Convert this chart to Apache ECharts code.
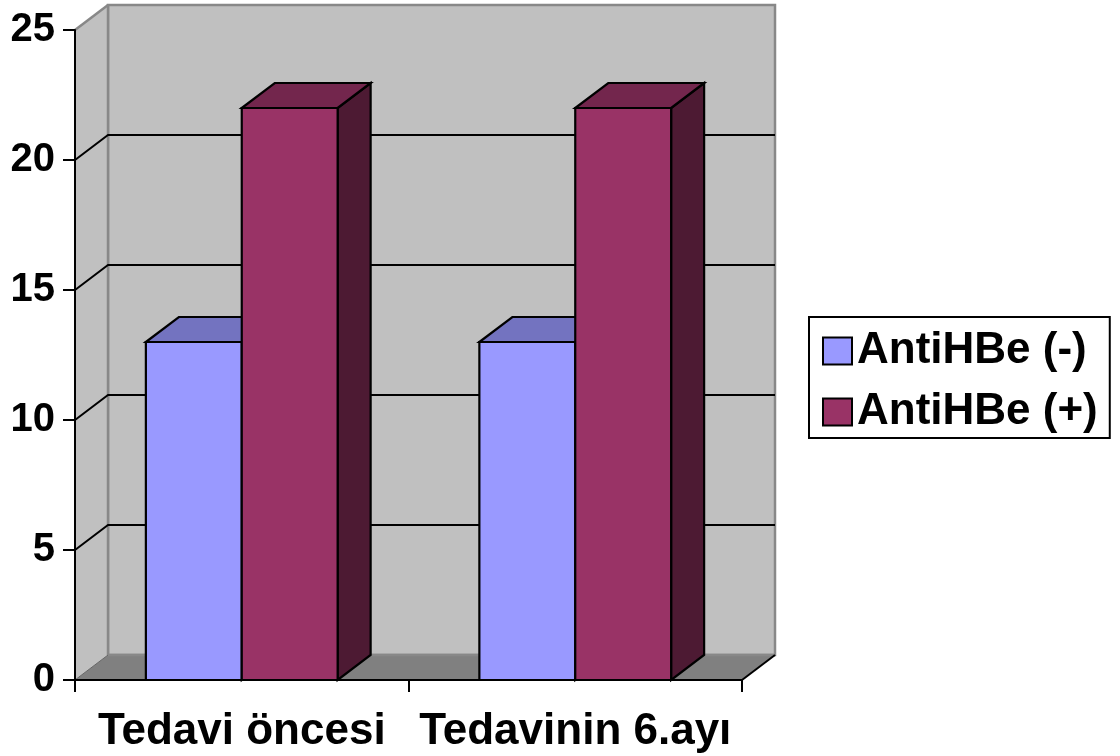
<!DOCTYPE html>
<html>
<head>
<meta charset="utf-8">
<script src="https://cdn.jsdelivr.net/npm/echarts@6/dist/echarts.min.js"></script>
<style>
  html, body { margin: 0; padding: 0; background: #ffffff; }
  #chart { width: 1120px; height: 756px; }
</style>
</head>
<body>
<div id="chart"></div>
<script>
// ---- data ----
const categories = ['Tedavi öncesi', 'Tedavinin 6.ayı'];
const seriesNames = ['AntiHBe (-)', 'AntiHBe (+)'];
const antiHBeNeg = [13, 13];
const antiHBePos = [22, 22];
const yMin = 0, yMax = 25, yInterval = 5;

// ---- styling constants ----
const FONT = 'Liberation Sans, Arial, sans-serif';
const DX = 33, DY = -25;          // 3D depth offset (pixels)
const BAR_FRAC = 0.2875;          // bar width as share of category band
const wallColor = '#c0c0c0';
const floorColor = '#808080';
const wallEdge = '#888888';

const gridValues = [];
for (let v = yMin + yInterval; v < yMax; v += yInterval) gridValues.push(v);

const chart = echarts.init(document.getElementById('chart'), null, { renderer: 'canvas' });

function wallsRender(params, api) {
  const cs = params.coordSys;
  const x = cs.x, y = cs.y, w = cs.width, h = cs.height;
  const children = [];
  // back wall
  children.push({ type: 'rect', shape: { x: x + DX, y: y + DY, width: w, height: h },
    style: { fill: wallColor, stroke: wallEdge, lineWidth: 2.5 } });
  // left wall
  children.push({ type: 'polygon', shape: { points: [[x, y], [x + DX, y + DY], [x + DX, y + h + DY], [x, y + h]] },
    style: { fill: wallColor, stroke: null } });
  children.push({ type: 'line', shape: { x1: x, y1: y, x2: x + DX, y2: y + DY },
    style: { stroke: wallEdge, lineWidth: 2.5 } });
  children.push({ type: 'line', shape: { x1: x + DX, y1: y + DY, x2: x + DX, y2: y + h + DY },
    style: { stroke: wallEdge, lineWidth: 2.5 } });
  // floor
  children.push({ type: 'polygon', shape: { points: [[x, y + h], [x + DX, y + h + DY], [x + w + DX, y + h + DY], [x + w, y + h]] },
    style: { fill: floorColor, stroke: null } });
  children.push({ type: 'line', shape: { x1: x + DX, y1: y + h + DY, x2: x + w + DX, y2: y + h + DY },
    style: { stroke: wallEdge, lineWidth: 2.5 } });
  children.push({ type: 'line', shape: { x1: x, y1: y + h, x2: x + DX, y2: y + h + DY },
    style: { stroke: '#666666', lineWidth: 1 } });
  children.push({ type: 'line', shape: { x1: x + w, y1: y + h, x2: x + w + DX, y2: y + h + DY },
    style: { stroke: '#000000', lineWidth: 2 } });
  // gridlines on left and back walls
  gridValues.forEach(function (v) {
    const yy = api.coord([0, v])[1];
    children.push({ type: 'polyline', shape: { points: [[x, yy], [x + DX, yy + DY], [x + w + DX, yy + DY]] },
      style: { stroke: '#000000', lineWidth: 2, fill: null } });
  });
  return { type: 'group', children: children };
}

function barRender(side, front, top, sideColor) {
  return function (params, api) {
    const cat = api.value(0);
    const val = api.value(1);
    const pTop = api.coord([cat, val]);
    const pBase = api.coord([cat, 0]);
    const band = api.size([1, 0])[0];
    const w = band * BAR_FRAC;
    const x0 = side < 0 ? pTop[0] - w : pTop[0];
    const x1 = x0 + w;
    const yt = pTop[1], yb = pBase[1];
    const st = { stroke: '#000000', lineWidth: 2.2, lineJoin: 'miter' };
    return {
      type: 'group',
      children: [
        { type: 'polygon', shape: { points: [[x1, yt], [x1 + DX, yt + DY], [x1 + DX, yb + DY], [x1, yb]] },
          style: Object.assign({ fill: sideColor }, st) },
        { type: 'polygon', shape: { points: [[x0, yt], [x0 + DX, yt + DY], [x1 + DX, yt + DY], [x1, yt]] },
          style: Object.assign({ fill: top }, st) },
        { type: 'rect', shape: { x: x0, y: yt, width: w, height: yb - yt },
          style: Object.assign({ fill: front }, st) }
      ]
    };
  };
}

const option = {
  backgroundColor: '#ffffff',
  animation: false,
  grid: { left: 75, top: 30, width: 667, height: 650, containLabel: false },
  xAxis: {
    type: 'category',
    data: categories,
    boundaryGap: true,
    z: 10,
    axisLine: { show: true, lineStyle: { color: '#000', width: 2 } },
    axisTick: { show: true, interval: 0, length: 12, alignWithLabel: false, lineStyle: { color: '#000', width: 2 } },
    axisLabel: { show: true, interval: 0, hideOverlap: false, color: '#000', fontSize: 44, fontWeight: 'bold', fontFamily: FONT, margin: 30 },
    splitLine: { show: false }
  },
  yAxis: {
    type: 'value',
    min: yMin, max: yMax, interval: yInterval,
    z: 10,
    axisLine: { show: true, lineStyle: { color: '#000', width: 2 } },
    axisTick: { show: true, length: 12, lineStyle: { color: '#000', width: 2 } },
    axisLabel: { color: '#000', fontSize: 40, fontWeight: 'bold', fontFamily: FONT, margin: 20 },
    splitLine: { show: false }
  },
  legend: {
    orient: 'vertical',
    left: 809,
    top: 317,
    data: seriesNames,
    icon: 'rect',
    itemWidth: 29,
    itemHeight: 27,
    itemGap: 17,
    padding: [12, 12, 4, 13],
    borderColor: '#000',
    borderWidth: 2,
    backgroundColor: '#ffffff',
    itemStyle: { borderColor: '#000', borderWidth: 2 },
    textStyle: { color: '#000', fontSize: 44, fontWeight: 'bold', fontFamily: FONT, lineHeight: 44 },
    selectedMode: false
  },
  series: [
    {
      name: 'walls',
      type: 'custom',
      silent: true,
      clip: false,
      z: 1,
      data: [[0, 0]],
      encode: { x: 0, y: 1 },
      renderItem: wallsRender
    },
    {
      name: seriesNames[0],
      type: 'custom',
      clip: false,
      z: 3,
      itemStyle: { color: '#9999ff' },
      data: antiHBeNeg.map(function (v, i) { return [i, v]; }),
      encode: { x: 0, y: 1 },
      renderItem: barRender(-1, '#9999ff', '#7373c0', '#4d4d80')
    },
    {
      name: seriesNames[1],
      type: 'custom',
      clip: false,
      z: 4,
      itemStyle: { color: '#993366' },
      data: antiHBePos.map(function (v, i) { return [i, v]; }),
      encode: { x: 0, y: 1 },
      renderItem: barRender(1, '#993366', '#73264d', '#4d1a33')
    }
  ]
};

chart.setOption(option);
</script>
</body>
</html>
